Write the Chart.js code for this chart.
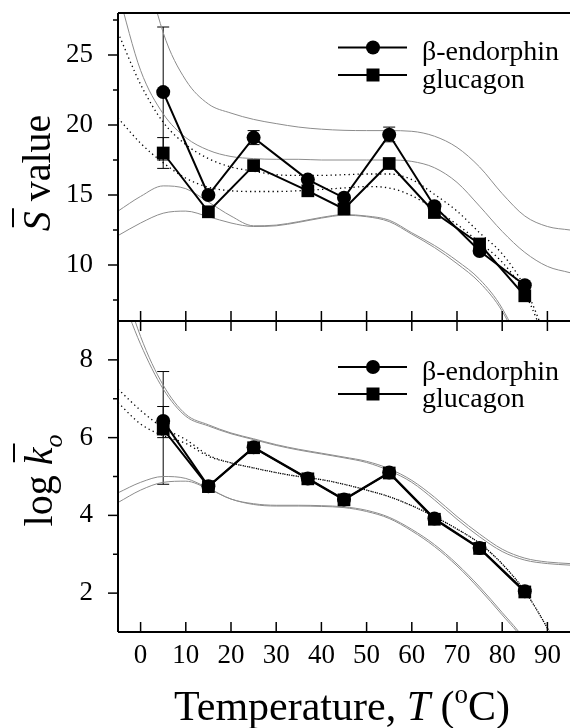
<!DOCTYPE html>
<html>
<head>
<meta charset="utf-8">
<script src="https://cdn.jsdelivr.net/npm/chart.js@4"></script>
<style>
  html, body { margin: 0; padding: 0; background: #fff; }
  #wrap { position: relative; width: 570px; height: 728px; overflow: hidden; }
  canvas { position: absolute; left: 0; }
  #topChart { top: 0; }
  #bottomChart { top: 312px; }
</style>
</head>
<body>
<div id="wrap">
  <canvas id="topChart" width="570" height="330" style="width:570px;height:330px"></canvas>
  <canvas id="bottomChart" width="570" height="416" style="width:570px;height:416px"></canvas>
</div>
<script>
// measured points
const seriesNames = ['β-endorphin', 'glucagon'];
const temps = [5, 15, 25, 37, 45, 55, 65, 75, 85];
const sEndorphin = [22.35, 15.0, 19.1, 16.1, 14.8, 19.3, 14.2, 11.0, 8.55];
const sGlucagon = [18.0, 13.8, 17.1, 15.3, 14.0, 17.25, 13.75, 11.5, 7.8];
const kEndorphin = [6.43, 4.75, 5.75, 4.95, 4.41, 5.1, 3.92, 3.16, 2.05];
const kGlucagon = [6.22, 4.74, 5.74, 4.94, 4.4, 5.09, 3.9, 3.15, 2.03];

// error bars [low, high], null where too small to see
const sEndorphinErr = [[16.9, 27.0], null, [18.6, 19.6], null, null, [18.8, 19.85], null, null, null];
const sGlucagonErr = [[17.5, 19.1], null, null, null, null, null, null, null, null];
const kEndorphinErr = [[4.8, 7.7], null, null, null, null, null, null, null, null];
const kGlucagonErr = [[6.0, 6.8], null, null, null, null, null, null, null, null];

// fitted curves (dotted) and confidence bands (grey), read at these temperatures
const curveT = [-5, 0, 5, 10, 15, 20, 25, 30, 35, 40, 45, 50, 55, 60, 65, 70, 75, 80, 85, 90, 95];
const sFitEnd = [26.6, 22.9, 20.2, 18.6, 17.6, 17.0, 16.7, 16.45, 16.4, 16.4, 16.45, 16.5, 16.5, 16.1, 15.05, 13.85, 12.3, 10.8, 8.4, 4.5, 0];
const sFitGlu = [20.5, 18.7, 17.3, 16.2, 15.55, 15.3, 15.25, 15.25, 15.3, 15.4, 15.5, 15.6, 15.5, 14.95, 14.0, 12.9, 11.6, 10.2, 8.0, 4.2, 0];
const sBandHiA = [42, 33, 26.6, 23.2, 21.5, 20.85, 20.4, 20.1, 19.85, 19.7, 19.62, 19.6, 19.6, 19.55, 19.2, 18.4, 17.0, 15.1, 13.5, 12.75, 12.5];
const sBandHiB = [29.5, 23.9, 20.8, 19.1, 18.2, 17.75, 17.6, 17.55, 17.55, 17.5, 17.5, 17.5, 17.5, 17.4, 16.95, 15.9, 14.2, 12.4, 10.9, 9.9, 9.45];
const sBandLoA = [13.85, 14.9, 15.65, 15.45, 14.5, 13.5, 12.8, 12.85, 13.1, 13.4, 13.6, 13.5, 13.2, 12.3, 11.4, 10.3, 8.98, 6.9, 3.5, -1, -6];
const sBandLoB = [12.1, 13.0, 13.7, 13.85, 13.45, 13.0, 12.75, 12.8, 13.05, 13.35, 13.55, 13.45, 13.1, 12.2, 11.25, 10.1, 8.75, 6.7, 3.3, -1.2, -6.2];
const kFitEnd = [7.25, 6.7, 6.25, 5.95, 5.55, 5.35, 5.22, 5.1, 5.0, 4.92, 4.8, 4.65, 4.48, 4.25, 3.97, 3.65, 3.28, 2.75, 2.05, 1.1, 0];
const kFitGlu = [6.9, 6.35, 6.05, 5.85, 5.52, 5.35, 5.22, 5.1, 5.0, 4.92, 4.8, 4.65, 4.48, 4.25, 3.97, 3.65, 3.28, 2.75, 2.05, 1.1, 0];
const kBandHiA = [9.9, 8.4, 7.25, 6.55, 6.3, 6.1, 5.95, 5.8, 5.68, 5.58, 5.48, 5.36, 5.15, 4.85, 4.4, 3.9, 3.45, 3.07, 2.85, 2.76, 2.72];
const kBandHiB = [10.4, 8.6, 7.35, 6.6, 6.33, 6.12, 5.97, 5.82, 5.7, 5.6, 5.5, 5.39, 5.2, 4.9, 4.47, 3.97, 3.52, 3.13, 2.9, 2.8, 2.76];
const kBandLoA = [4.58, 4.85, 5.0, 4.95, 4.7, 4.42, 4.3, 4.26, 4.26, 4.25, 4.22, 4.13, 3.95, 3.64, 3.25, 2.75, 2.16, 1.5, 0.8, -0.2, -1.5];
const kBandLoB = [4.33, 4.65, 4.85, 4.88, 4.68, 4.42, 4.28, 4.24, 4.24, 4.23, 4.2, 4.1, 3.92, 3.6, 3.2, 2.7, 2.1, 1.44, 0.74, -0.3, -1.6];

// axis ticks
const xTicks = [0, 10, 20, 30, 40, 50, 60, 70, 80, 90];
const sTicks = [10, 15, 20, 25];
const sMinor = [7.5, 12.5, 17.5, 22.5, 27.5];
const kTicks = [2, 4, 6, 8];
const kMinor = [3, 5, 7];

const serif = '"Liberation Serif", "DejaVu Serif", serif';

function seriesSet(values, style) {
    return {
        data: temps.map((t, i) => ({ x: t, y: values[i] })),
        borderColor: '#000',
        borderWidth: 2,
        pointStyle: style,
        pointRadius: style === 'circle' ? 7 : 9,
        pointBackgroundColor: '#000',
        pointBorderWidth: 0,
        tension: 0,
        fill: false,
    };
}

function curveSet(values, dotted) {
    return {
        data: curveT.map((t, i) => ({ x: t, y: values[i] })),
        borderColor: dotted ? '#000' : '#8c8c8c',
        borderWidth: dotted ? 1.3 : 1,
        borderDash: dotted ? [1.3, 3.2] : [],
        pointRadius: 0,
        cubicInterpolationMode: 'monotone',
        fill: false,
    };
}

function line(ctx, x1, y1, x2, y2) {
    ctx.beginPath();
    ctx.moveTo(x1, y1);
    ctx.lineTo(x2, y2);
    ctx.stroke();
}

// draw a run of differently styled pieces centred on cx
function drawRich(ctx, segs, cx, y) {
    let w = 0;
    segs.forEach(s => { ctx.font = s.font; s.w = ctx.measureText(s.t).width; w += s.w; });
    let x = cx - w / 2;
    segs.forEach(s => {
        ctx.font = s.font;
        ctx.fillText(s.t, x, y + (s.dy || 0));
        s.x = x;
        x += s.w;
    });
    return segs;
}

function drawLegend(ctx, y1, y2) {
    [[y1, 'circle', seriesNames[0]], [y2, 'rect', seriesNames[1]]].forEach(([y, style, label]) => {
        ctx.lineWidth = 2;
        line(ctx, 338, y, 407, y);
        ctx.beginPath();
        if (style === 'circle') ctx.arc(373, y, 7, 0, 2 * Math.PI);
        else ctx.rect(366.5, y - 6.5, 13, 13);
        ctx.fill();
        ctx.font = '28px ' + serif;
        ctx.textAlign = 'left';
        ctx.textBaseline = 'alphabetic';
        ctx.fillText(label, 422, y + 12.5);
    });
}

// frame, inward/outward ticks, error bars, legend and titles
function makeDecor(p) {
    return {
        id: 'decor',
        beforeDatasetsDraw(chart) {
            const ctx = chart.ctx, xs = chart.scales.x, ys = chart.scales.y;
            ctx.save();
            ctx.strokeStyle = '#000';
            ctx.lineWidth = 1;
            p.errors.forEach(errs => errs.forEach((e, i) => {
                if (!e) return;
                const x = xs.getPixelForValue(temps[i]);
                const y1 = ys.getPixelForValue(e[0]), y2 = ys.getPixelForValue(e[1]);
                line(ctx, x, y1, x, y2);
                line(ctx, x - 6, y1, x + 6, y1);
                line(ctx, x - 6, y2, x + 6, y2);
            }));
            ctx.restore();
        },
        afterDraw(chart) {
            const ctx = chart.ctx, a = chart.chartArea, xs = chart.scales.x, ys = chart.scales.y;
            ctx.save();
            ctx.strokeStyle = '#000';
            ctx.fillStyle = '#000';
            ctx.lineWidth = 2;
            line(ctx, a.left, a.top, a.right, a.top);
            line(ctx, a.left, a.bottom, a.right, a.bottom);
            line(ctx, a.left, a.top, a.left, a.bottom);

            ctx.lineWidth = 1.5;
            p.major.forEach(v => { const y = ys.getPixelForValue(v); line(ctx, a.left - 10, y, a.left, y); });
            p.minor.forEach(v => { const y = ys.getPixelForValue(v); line(ctx, a.left - 5, y, a.left, y); });
            xTicks.forEach(v => {
                const x = xs.getPixelForValue(v);
                p.xEdges.forEach(([edge, dir]) => {
                    const y = edge === 'top' ? a.top : a.bottom;
                    line(ctx, x, y, x, y + dir * 10);
                });
            });

            drawLegend(ctx, p.legendY[0], p.legendY[1]);
            p.titles(ctx, a);
            ctx.restore();
        },
    };
}

function createChart(canvasId, datasets, yMin, yMax, yTicks, xShown, padding, decor) {
    const tickFont = { family: serif, size: 27, lineHeight: 1 };
    new Chart(document.getElementById(canvasId), {
        type: 'line',
        data: { datasets: datasets },
        options: {
            responsive: false,
            animation: false,
            events: [],
            layout: { padding: padding, autoPadding: false },
            plugins: { legend: { display: false }, tooltip: { enabled: false } },
            scales: {
                x: {
                    type: 'linear',
                    min: -5,
                    max: 95,
                    display: xShown,
                    afterBuildTicks: s => { s.ticks = xTicks.map(v => ({ value: v })); },
                    afterFit: s => { s.height = xShown ? 96 : 0; s.paddingLeft = 0; s.paddingRight = 0; },
                    grid: { display: false, drawTicks: false },
                    border: { display: false },
                    ticks: { font: tickFont, color: '#000', padding: 10, maxRotation: 0, autoSkip: false },
                },
                y: {
                    min: yMin,
                    max: yMax,
                    afterBuildTicks: s => { s.ticks = yTicks.map(v => ({ value: v })); },
                    afterFit: s => { s.width = 118; s.paddingTop = 0; s.paddingBottom = 0; },
                    grid: { display: false, drawTicks: false },
                    border: { display: false },
                    ticks: { font: tickFont, color: '#000', padding: 25 },
                },
            },
        },
        plugins: [makeDecor(decor)],
    });
}

// top panel: S value
createChart('topChart', [
    seriesSet(sEndorphin, 'circle'),
    seriesSet(sGlucagon, 'rect'),
    curveSet(sFitEnd, true),
    curveSet(sFitGlu, true),
    curveSet(sBandHiA, false),
    curveSet(sBandHiB, false),
    curveSet(sBandLoA, false),
    curveSet(sBandLoB, false),
], 6, 28, sTicks, false, { top: 13, bottom: 9, left: 0, right: 0 }, {
    errors: [sEndorphinErr, sGlucagonErr],
    major: sTicks,
    minor: sMinor,
    xEdges: [['bottom', -1]],
    legendY: [47.5, 75],
    titles(ctx, a) {
        ctx.save();
        ctx.translate(50, (a.top + a.bottom) / 2 + 6);
        ctx.rotate(-Math.PI / 2);
        ctx.textBaseline = 'alphabetic';
        const segs = drawRich(ctx, [
            { t: 'S', font: 'italic 40px ' + serif },
            { t: ' value', font: '40px ' + serif },
        ], 0, 0);
        ctx.lineWidth = 2;
        line(ctx, segs[0].x + 4, -37, segs[0].x + segs[0].w + 3, -37);
        ctx.restore();
    },
});

// bottom panel: log k0
createChart('bottomChart', [
    seriesSet(kEndorphin, 'circle'),
    seriesSet(kGlucagon, 'rect'),
    curveSet(kFitEnd, true),
    curveSet(kFitGlu, true),
    curveSet(kBandHiA, false),
    curveSet(kBandHiB, false),
    curveSet(kBandLoA, false),
    curveSet(kBandLoB, false),
], 1, 9, kTicks, true, { top: 9, bottom: 0, left: 0, right: 0 }, {
    errors: [kEndorphinErr, kGlucagonErr],
    major: kTicks,
    minor: kMinor,
    xEdges: [['top', 1], ['bottom', -1]],
    legendY: [55, 82],
    titles(ctx, a) {
        ctx.textBaseline = 'alphabetic';
        drawRich(ctx, [
            { t: 'Temperature, ', font: '42px ' + serif },
            { t: 'T', font: 'italic 42px ' + serif },
            { t: ' (', font: '42px ' + serif },
            { t: 'o', font: '27px ' + serif, dy: -17 },
            { t: 'C)', font: '42px ' + serif },
        ], (a.left + a.right) / 2 - 2, 408);

        ctx.save();
        ctx.translate(52, (a.top + a.bottom) / 2 + 4);
        ctx.rotate(-Math.PI / 2);
        const segs = drawRich(ctx, [
            { t: 'log ', font: '40px ' + serif },
            { t: 'k', font: 'italic 40px ' + serif },
            { t: 'o', font: 'italic 26px ' + serif, dy: 10 },
        ], 0, 0);
        ctx.lineWidth = 2;
        line(ctx, segs[1].x + 3, -38, segs[1].x + segs[1].w + 4, -38);
        ctx.restore();
    },
});
</script>
</body>
</html>
